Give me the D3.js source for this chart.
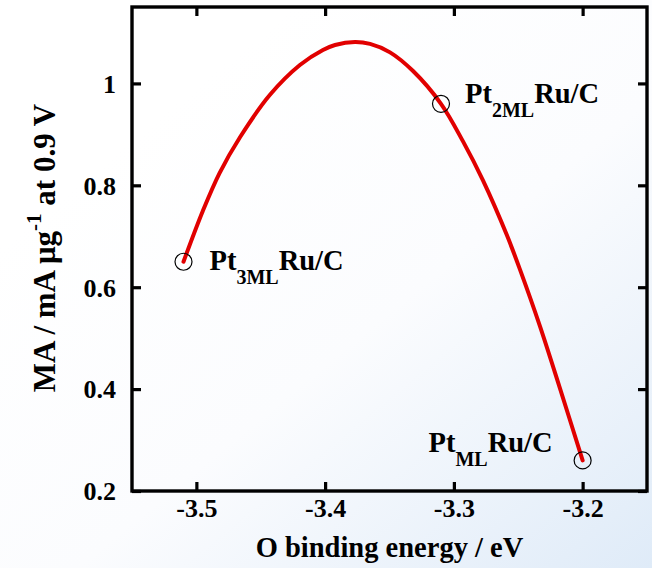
<!DOCTYPE html>
<html>
<head>
<meta charset="utf-8">
<script src="https://cdn.jsdelivr.net/npm/d3@7"></script>
<style>
  html, body { margin: 0; padding: 0; background: #fff; }
  svg { display: block; }
  text { font-family: "Liberation Serif", "Times New Roman", serif; font-weight: bold; fill: #000; }
</style>
</head>
<body>
<svg id="chart" width="652" height="568"></svg>
<script>
// Catalysts: O binding energy (eV) and mass activity at 0.9 V (mA/µg)
const catalystBase = ["Pt", "Pt", "Pt"];
const catalystSub = ["3ML", "2ML", "ML"];
const catalystTail = ["Ru/C", "Ru/C", "Ru/C"];
const bindingEnergy = [-3.51, -3.31, -3.20];
const massActivity = [0.65, 0.96, 0.26];

// Volcano trend line traced through the catalysts
const trendX = [-3.51, -3.495, -3.482, -3.466, -3.443, -3.4196, -3.4017, -3.3923, -3.3768, -3.3651, -3.3496, -3.3317, -3.31, -3.2929, -3.2774, -3.2587, -3.2487, -3.2331, -3.2176, -3.20];
const trendY = [0.65, 0.7496, 0.8241, 0.8948, 0.9772, 1.0361, 1.0656, 1.0754, 1.0813, 1.0775, 1.061, 1.0243, 0.96, 0.8862, 0.8096, 0.7013, 0.6349, 0.5231, 0.4014, 0.26];

// Axis ticks and titles
const xTicks = [-3.5, -3.4, -3.3, -3.2];
const yTicks = [0.2, 0.4, 0.6, 0.8, 1.0];
const xDomain = [-3.55, -3.15];
const yDomain = [0.2, 1.15];

const svg = d3.select("#chart");
const W = 652, H = 568;
const plot = { left: 132, right: 647, top: 7, bottom: 491 };

// soft bluish backdrop fading in toward the lower right
const defs = svg.append("defs");
const grad = defs.append("linearGradient")
  .attr("id", "bg").attr("x1", "0.25").attr("y1", "0.2").attr("x2", "1").attr("y2", "1");
grad.append("stop").attr("offset", "0").attr("stop-color", "#ffffff");
grad.append("stop").attr("offset", "0.45").attr("stop-color", "#fbfcfe");
grad.append("stop").attr("offset", "1").attr("stop-color", "#dfebf8");
svg.append("rect").attr("width", W).attr("height", H).attr("fill", "url(#bg)");

const x = d3.scaleLinear().domain(xDomain).range([plot.left, plot.right]);
const y = d3.scaleLinear().domain(yDomain).range([plot.bottom, plot.top]);

const fmtX = d => d3.format(".1f")(d).replace("\u2212", "-");
const fmtY = d => (d === 1 ? "1" : d3.format(".1f")(d));
const tickLen = 9;

// inward ticks on all four sides
const gx = svg.append("g").attr("transform", `translate(0,${plot.bottom})`)
  .call(d3.axisBottom(x).tickValues(xTicks).tickSize(-tickLen).tickFormat(fmtX));
const gxTop = svg.append("g").attr("transform", `translate(0,${plot.top})`)
  .call(d3.axisTop(x).tickValues(xTicks).tickSize(-tickLen).tickFormat(""));
const gy = svg.append("g").attr("transform", `translate(${plot.left},0)`)
  .call(d3.axisLeft(y).tickValues(yTicks).tickSize(-tickLen).tickPadding(tickLen + 7).tickFormat(fmtY));
const gyRight = svg.append("g").attr("transform", `translate(${plot.right},0)`)
  .call(d3.axisRight(y).tickValues(yTicks).tickSize(-tickLen).tickFormat(""));

[gx, gxTop, gy, gyRight].forEach(g => {
  g.select(".domain").remove();
  g.selectAll(".tick line").attr("stroke", "#000").attr("stroke-width", 3.2);
  g.selectAll("text").attr("font-size", 26).attr("font-family", "Liberation Serif, serif").attr("font-weight", "bold").attr("fill", "#000");
});
gx.selectAll(".tick text").attr("dy", null).attr("y", 26);
gy.selectAll(".tick text").attr("dy", "0.34em");

// plot frame
svg.append("rect")
  .attr("x", plot.left).attr("y", plot.top)
  .attr("width", plot.right - plot.left).attr("height", plot.bottom - plot.top)
  .attr("fill", "none").attr("stroke", "#000").attr("stroke-width", 3.4);

// trend curve
const trend = trendX.map((v, i) => [v, trendY[i]]);
svg.append("path")
  .datum(trend)
  .attr("fill", "none")
  .attr("stroke", "#e10000")
  .attr("stroke-width", 4)
  .attr("stroke-linecap", "round")
  .attr("stroke-linejoin", "round")
  .attr("d", d3.line().x(d => x(d[0])).y(d => y(d[1])).curve(d3.curveCatmullRom.alpha(0.5)));

// catalyst markers
const pts = bindingEnergy.map((v, i) => ({ x: v, y: massActivity[i], base: catalystBase[i], sub: catalystSub[i], tail: catalystTail[i] }));
svg.selectAll("circle.pt").data(pts).join("circle")
  .attr("class", "pt")
  .attr("cx", d => x(d.x)).attr("cy", d => y(d.y)).attr("r", 8.5)
  .attr("fill", "none").attr("stroke", "#000").attr("stroke-width", 1.2);

// catalyst labels (pixel offsets from each marker)
const labelOffset = [[26, 8, "start"], [24, -1, "start"], [-30, -8, "end"]];
pts.forEach((d, i) => {
  const [dx, dy, anchor] = labelOffset[i];
  const t = svg.append("text")
    .attr("x", x(d.x) + dx).attr("y", y(d.y) + dy)
    .attr("text-anchor", anchor)
    .attr("font-size", 28.5);
  t.append("tspan").text(d.base);
  t.append("tspan").attr("font-size", 20).attr("dy", 14).text(d.sub);
  t.append("tspan").attr("dy", -14).text(d.tail);
});

// axis titles
svg.append("text")
  .attr("x", (plot.left + plot.right) / 2).attr("y", 557)
  .attr("text-anchor", "middle").attr("font-size", 28.5)
  .text("O binding energy / eV");

const yt = svg.append("text")
  .attr("transform", `translate(55,248) rotate(-90)`)
  .attr("text-anchor", "middle").attr("font-size", 31);
yt.append("tspan").text("MA / mA μg");
yt.append("tspan").attr("font-size", 21).attr("dy", -14).text("-1");
yt.append("tspan").attr("dy", 14).text(" at 0.9 V");
</script>
</body>
</html>
